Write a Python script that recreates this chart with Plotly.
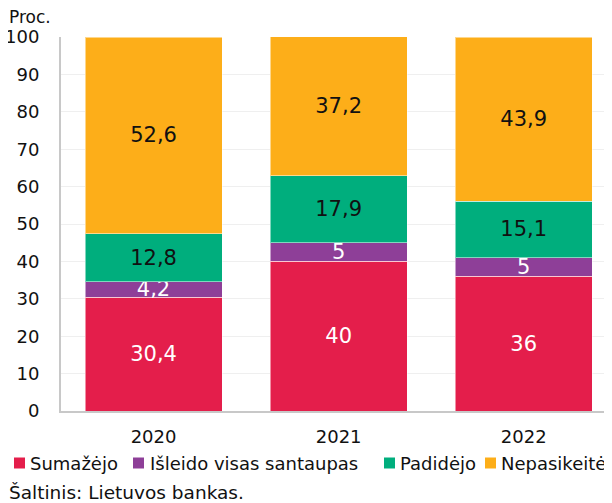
import plotly.graph_objects as go

years = ["2020", "2021", "2022"]
series_names = ["Sumažėjo", "Išleido visas santaupas", "Padidėjo", "Nepasikeitė"]
sumazejo = [30.4, 40, 36]
isleido = [4.2, 5, 5]
padidejo = [12.8, 17.9, 15.1]
nepasikeite = [52.6, 37.2, 43.9]
y_ticks = [0, 10, 20, 30, 40, 50, 60, 70, 80, 90, 100]

colors = ["#E41E4B", "#8E3F98", "#00AE7D", "#FDAE19"]
text_colors = ["white", "white", "#111111", "#111111"]

FONT = "DejaVu Sans"
OFF = 8  # page body margin in the browser
W, H = 612 - OFF, 503 - OFF
L, R, T, B = 61 - OFF, 0, 37 - OFF, 503 - 411
PW, PH = W - L - R, H - T - B


def px_x(px):
    return (px - OFF - L) / PW


def px_y(py):
    return (H - B - (py - OFF)) / PH


def fmt(v):
    return ("%g" % v).replace(".", ",")


fig = go.Figure()
for name, vals, col, tc in zip(series_names, [sumazejo, isleido, padidejo, nepasikeite], colors, text_colors):
    fig.add_trace(go.Bar(
        x=years, y=vals, name=name,
        marker=dict(color=col, line=dict(color="rgba(255,255,255,0.5)", width=1)),
        text=[fmt(v) for v in vals],
        textposition="inside", insidetextanchor="middle",
        textangle=0, constraintext="none",
        textfont=dict(family=FONT, size=21, color=tc),
        width=0.74,
        showlegend=False,
    ))

# custom legend (square + label), positioned like the reference
legend_sq_left = [14, 133, 384, 485]
legend_txt_left = [28, 148, 398, 499]
legend_y = 463
shapes = []
annotations = []
for name, col, sx, tx in zip(series_names, colors, legend_sq_left, legend_txt_left):
    shapes.append(dict(type="rect", xref="paper", yref="paper",
                       x0=px_x(sx), x1=px_x(sx + 11), y0=px_y(legend_y + 5.5), y1=px_y(legend_y - 5.5),
                       fillcolor=col, line=dict(width=0)))
    annotations.append(dict(text=name, xref="paper", yref="paper", x=px_x(tx), y=px_y(legend_y),
                            xanchor="left", yanchor="middle", showarrow=False,
                            font=dict(family=FONT, size=18, color="#111111")))

annotations.append(dict(text="Proc.", xref="paper", yref="paper", x=px_x(7), y=px_y(17),
                        xanchor="left", yanchor="middle", showarrow=False,
                        font=dict(family=FONT, size=17, color="#111111")))
annotations.append(dict(text="Šaltinis: Lietuvos bankas.", xref="paper", yref="paper",
                        x=px_x(7), y=px_y(492), xanchor="left", yanchor="middle", showarrow=False,
                        font=dict(family=FONT, size=18.5, color="#111111")))

fig.update_layout(
    barmode="stack",
    width=W, height=H,
    margin=dict(l=L, r=R, t=T, b=B, autoexpand=False),
    plot_bgcolor="white", paper_bgcolor="white",
    font=dict(family=FONT, size=16, color="#111111"),
    showlegend=False,
    xaxis=dict(range=[-0.5, 2.477], showline=True, linecolor="#c8c8c8", linewidth=2,
               ticks="", ticklabelstandoff=8,
               tickfont=dict(family=FONT, size=18, color="#111111")),
    yaxis=dict(range=[0, 100], tickvals=y_ticks, showline=True, linecolor="#c8c8c8", linewidth=2,
               gridcolor="#efefef", gridwidth=1, ticks="", ticklabelstandoff=16, zeroline=False,
               tickfont=dict(family=FONT, size=18, color="#111111")),
    shapes=shapes,
    annotations=annotations,
)

fig.write_html("out.html")
